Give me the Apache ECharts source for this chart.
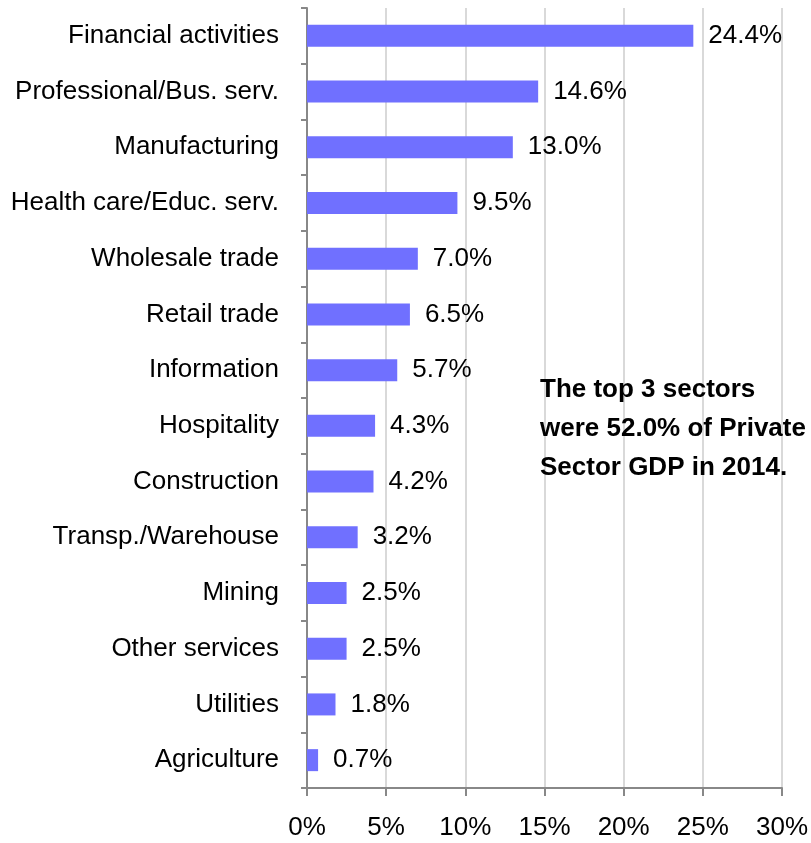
<!DOCTYPE html>
<html><head><meta charset="utf-8">
<script src="https://cdn.jsdelivr.net/npm/echarts@6/dist/echarts.min.js"></script>
<style>html,body{margin:0;padding:0;background:#fff}#c{width:811px;height:843px}</style>
</head><body><div id="c"></div>
<script>
const categories = ["Financial activities","Professional/Bus. serv.","Manufacturing","Health care/Educ. serv.","Wholesale trade","Retail trade","Information","Hospitality","Construction","Transp./Warehouse","Mining","Other services","Utilities","Agriculture"];
const shares = [24.4,14.6,13.0,9.5,7.0,6.5,5.7,4.3,4.2,3.2,2.5,2.5,1.8,0.7];
const xTicks = [0,5,10,15,20,25,30];
const note = "The top 3 sectors\nwere 52.0% of Private\nSector GDP in 2014.";
const FONT = '"Liberation Sans Narrow","Arial Narrow","Liberation Sans",Arial,sans-serif';
const chart = echarts.init(document.getElementById('c'), null, {renderer:'canvas'});
chart.setOption({
  animation:false,
  grid:{left:307,right:26,top:8,bottom:55,containLabel:false},
  xAxis:{type:'value',min:xTicks[0],max:xTicks[xTicks.length-1],interval:5,
    axisLine:{show:true,lineStyle:{color:'#888',width:2}},
    axisTick:{show:true,length:8,lineStyle:{color:'#888',width:2}},
    axisLabel:{formatter:'{value}%',fontSize:26,color:'#000',fontFamily:FONT,margin:27},
    splitLine:{show:true,lineStyle:{color:'#d9d9d9',width:2}}},
  yAxis:{type:'category',data:categories,inverse:true,
    axisLine:{show:true,lineStyle:{color:'#888',width:2}},
    axisTick:{show:true,length:6,lineStyle:{color:'#888',width:2}},
    axisLabel:{fontSize:26,color:'#000',fontFamily:FONT,margin:28,padding:[3,0,0,0]}},
  series:[{type:'bar',data:shares,barWidth:22,
    itemStyle:{color:'#7070ff'},
    label:{show:true,position:'right',distance:15,fontSize:26,color:'#000',fontFamily:FONT,
      padding:[3,0,0,0],formatter:p=>p.value.toFixed(1)+'%'}}],
  graphic:[{type:'text',left:540,top:370,z:100,style:{text:note,fill:'#000',
    font:'bold 26px '+FONT,lineHeight:39}}]
});
</script></body></html>
